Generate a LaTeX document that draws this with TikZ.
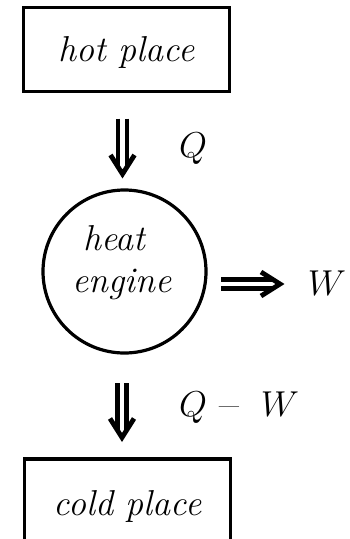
\RequirePackage{fix-cm}
\documentclass[tikz,border=0pt]{standalone}
\tikzset{
  box/.style={draw, line width=3.4pt, minimum width=206pt, inner sep=0pt, font=\fontsize{36}{43}\selectfont\itshape, text height=25pt},
  lbl/.style={inner sep=0pt, font=\fontsize{36}{43}\selectfont},
  itlbl/.style={inner sep=0pt, font=\fontsize{36}{43}\selectfont\itshape},
  rail/.style={line width=4.5pt},
  head/.style={line width=4.8pt},
  pics/dblarrow/.style={code={
    \draw[rail] (-#1,4.6) -- (-7,4.6);
    \draw[rail] (-#1,-4.6) -- (-7,-4.6);
    \draw[head] (-19,12) -- (0,0) -- (-19,-12);
  }}
}
\begin{document}
\begin{tikzpicture}[x=1pt,y=-1pt]
\useasboundingbox (0,0) rectangle (349,539);
\clip (0,0) rectangle (349,539);
% boxes
\node[box, minimum height=83.5pt, text depth=0.5pt] (hot) at (126.5,49.5) {hot place};
\node[box, minimum height=100pt, text depth=13pt] (cold) at (127.5,509) {cold place};
% engine
\node[draw, circle, line width=3.2pt, minimum size=163pt, inner sep=0pt] (eng) at (124.5,271.5) {};
\node[itlbl, anchor=base] (heat) at (114.5,250) {heat};
\node[itlbl, anchor=base] (engtxt) at (122,292) {engine};
% arrows
\coordinate (tipA) at (122.5,174);
\coordinate (tipB) at (280,284);
\coordinate (tipC) at (122,437.5);
\pic[rotate=-90] at (tipA) {dblarrow=55.5};
\pic at (tipB) {dblarrow=59};
\pic[rotate=-90] at (tipC) {dblarrow=54.5};
% labels
\node[lbl, anchor=base] (Q) at (193,157) {$Q$};
\node[lbl, anchor=base] (W) at (327,295) {$W$};
\node[lbl, anchor=base west] (QW) at (179,416) {$Q$\kern12pt\scalebox{1.2}[1]{\textendash}\kern22pt$W$};
\end{tikzpicture}
\end{document}
